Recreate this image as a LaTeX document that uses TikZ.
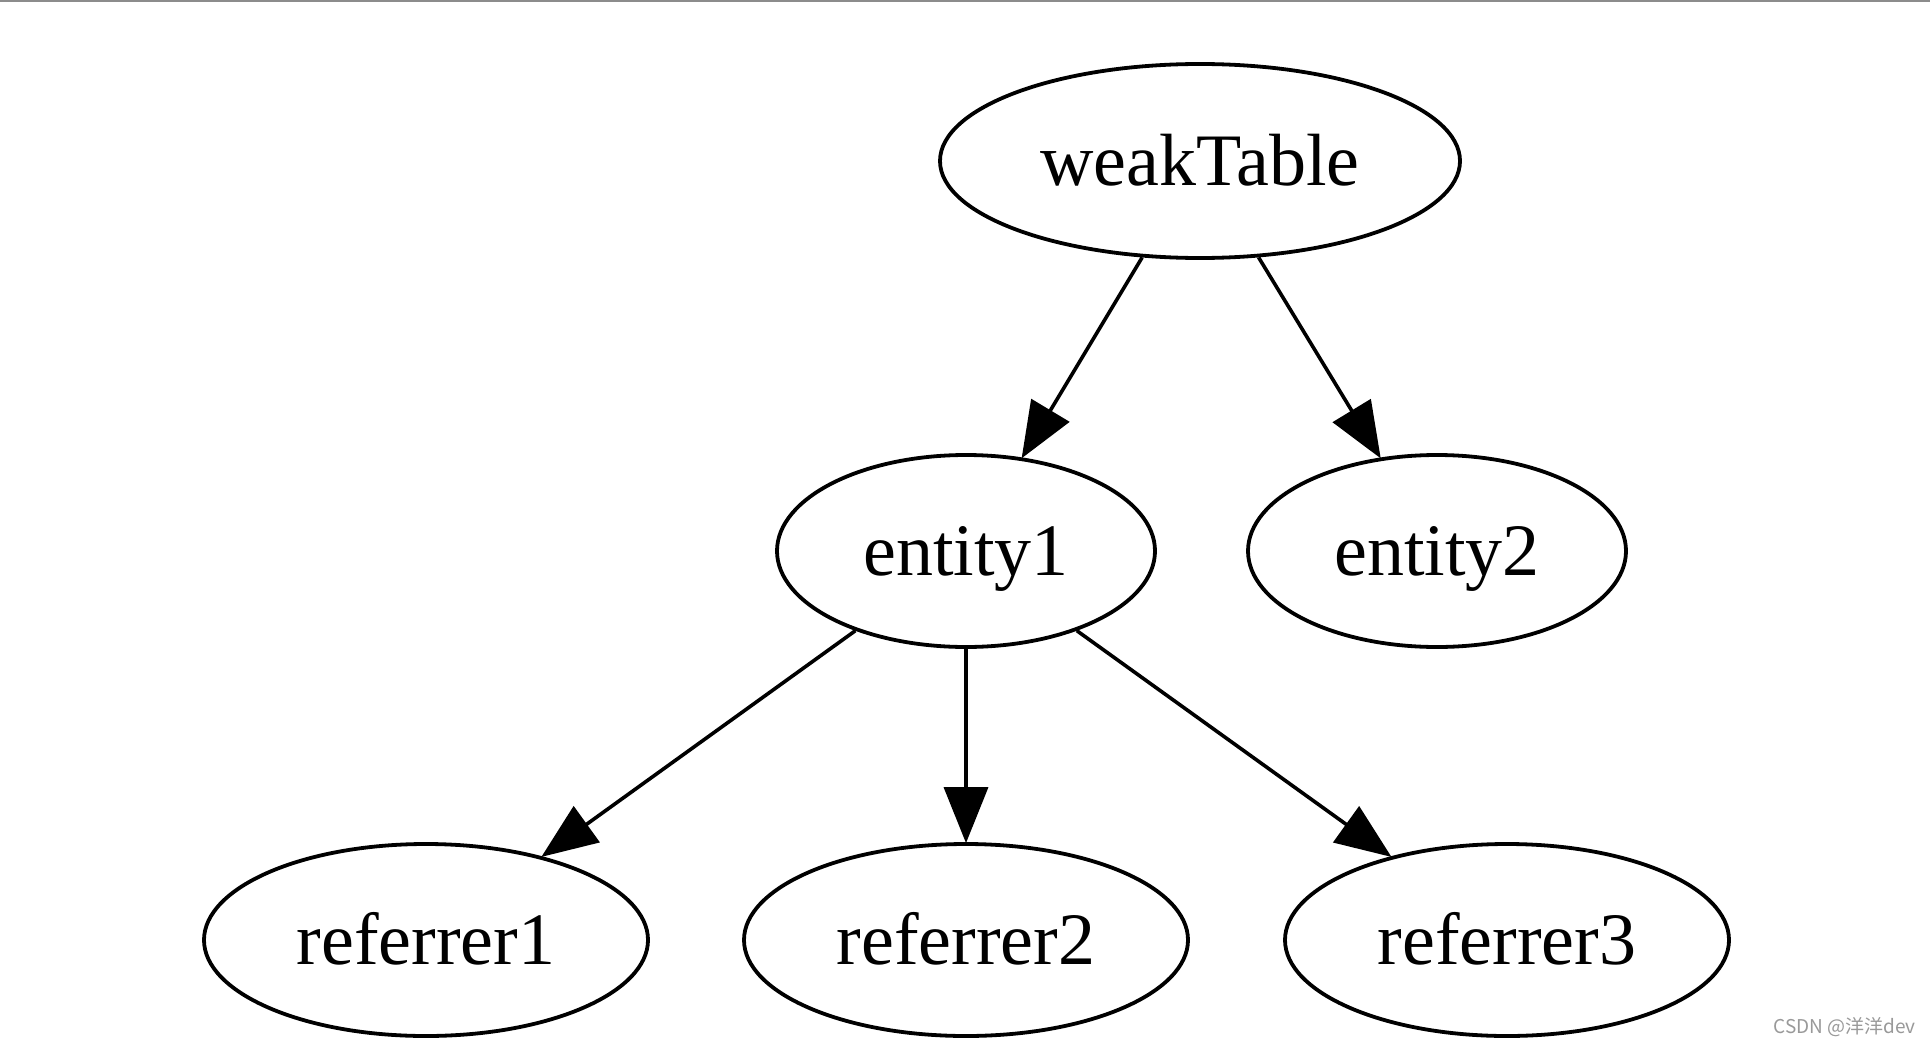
\documentclass[tikz,border=0pt]{standalone}
\usepackage{fontspec}
\setmainfont{Liberation Serif}
\newfontfamily\cjkfont{Noto Sans CJK SC}
\usetikzlibrary{shapes.geometric,arrows.meta}
\begin{document}
\begin{tikzpicture}[x=1pt,y=-1pt,
  nodebox/.style={ellipse,draw=black,line width=3.8pt,inner sep=0pt,
    text height=48pt,text depth=0pt,
    font=\fontsize{74}{80}\selectfont},
  edgeline/.style={line width=3.6pt,-{Triangle[length=56pt,width=44pt]}, shorten >=-1pt}]
\useasboundingbox (0,0) rectangle (1930,1046);
\fill[white] (0,0) rectangle (1930,1046);
\fill[black!45] (0,0) rectangle (1930,2.5);
\node[nodebox,minimum width=520pt,minimum height=194pt] (wt) at (1200,161) {weakTable};
\node[nodebox,minimum width=378pt,minimum height=192pt] (e1) at (966,551) {entity1};
\node[nodebox,minimum width=378pt,minimum height=192pt] (e2) at (1437,551) {entity2};
\node[nodebox,minimum width=444pt,minimum height=192pt] (r1) at (426,940) {referrer1};
\node[nodebox,minimum width=444pt,minimum height=192pt] (r2) at (966,940) {referrer2};
\node[nodebox,minimum width=444pt,minimum height=192pt] (r3) at (1507,940) {referrer3};
\draw[edgeline] (wt) -- (e1);
\draw[edgeline] (wt) -- (e2);
\draw[edgeline] (e1) -- (r1);
\draw[edgeline] (e1) -- (r2);
\draw[edgeline] (e1) -- (r3);
\node[anchor=east,text=black!40,font=\cjkfont\fontsize{19}{22}\selectfont,inner sep=0pt] (wm) at (1916,1027) {CSDN @洋洋dev};
\end{tikzpicture}
\end{document}
